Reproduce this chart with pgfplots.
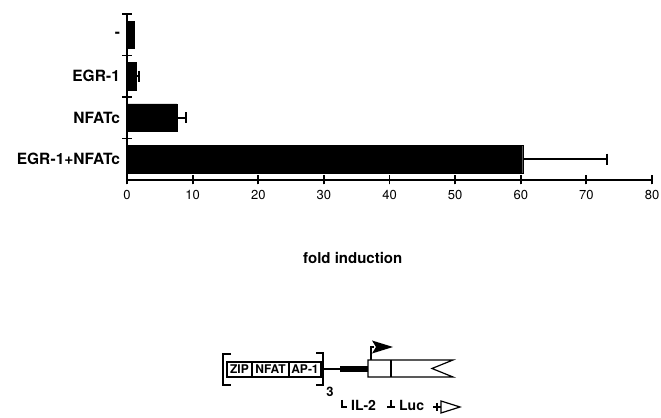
\documentclass[border=0pt]{standalone}
\usepackage{fontspec}
\setmainfont{TeX Gyre Heros}
\usepackage{pgfplots}
\pgfplotsset{compat=1.18}
\usetikzlibrary{arrows.meta}
\begin{document}
\begin{tikzpicture}
\useasboundingbox (0,0) rectangle (661bp,418bp);
\begin{axis}[
  at={(127bp,238bp)}, anchor=south west,
  scale only axis, width=525bp, height=166bp,
  xmin=0, xmax=80, ymin=0, ymax=4,
  axis x line=bottom, axis y line=left,
  axis line style={-, line width=1.8bp, black},
  xtick={0,10,...,80},
  ytick={1,2,3,4},
  yticklabels={EGR-1+NFATc,NFATc,EGR-1,-},
  tick align=center,
  major tick length=9bp,
  every tick/.style={line width=1.8bp, black},
  yticklabel style={font=\fontsize{15.5bp}{18bp}\selectfont\bfseries, yshift=-20.75bp, xshift=1bp},
  xticklabel style={font=\fontsize{13bp}{15bp}\selectfont, yshift=-2bp},
  /pgf/number format/assume math mode=true,
  xlabel={fold induction},
  xlabel style={at={(axis description cs:0.43,-0.47)}, anchor=center, font=\fontsize{15bp}{18bp}\selectfont\bfseries},
  clip=false,
]
\addplot[xbar, bar width=27.5bp, bar shift=0pt, fill=black, draw=black,
  error bars/.cd, x dir=plus, x explicit,
  error mark=|,
  error bar style={line width=1.6bp, black},
  error mark options={line width=1.6bp, mark size=5.5bp, black}]
 table[x=x, y=y, x error=e] {
 x y e
 60.3 0.5 12.8
 7.6 1.5 1.4
 1.4 2.5 0.4
 };
\addplot[xbar, bar width=27.5bp, bar shift=0pt, fill=black, draw=black] table[x=x, y=y] {
 x y
 1.05 3.5
 };
\pgfplotsinvokeforeach{0,10,20,30,40,50,60,70,80}{%
  \draw[line width=1.8bp, black] (axis cs:#1,0) ++(0pt,-4.5bp) -- ++(0pt,9bp);}
\end{axis}
\begin{scope}[shift={(0bp,418bp)}, x=1bp, y=-1bp, line cap=butt, line join=miter]
  % brackets
  \draw[line width=2bp] (231,354) -- (223,354) -- (223,385) -- (231,385);
  \draw[line width=2bp] (316,353) -- (323,353) -- (323,385) -- (316,385);
  % element boxes
  \draw[line width=1.2bp] (227,362) rectangle (321,377);
  \draw[line width=1.2bp] (252,362) -- (252,377);
  \draw[line width=1.2bp] (289,362) -- (289,377);
  \node[font=\fontsize{12bp}{14bp}\selectfont\bfseries, inner sep=0pt] at (239.5,369.5) {ZIP};
  \node[font=\fontsize{12bp}{14bp}\selectfont\bfseries, inner sep=0pt] at (270.5,369.5) {NFAT};
  \node[font=\fontsize{12bp}{14bp}\selectfont\bfseries, inner sep=0pt] at (305,369.5) {AP-1};
  \node[font=\fontsize{13bp}{15bp}\selectfont\bfseries, inner sep=0pt] at (330,392) {3};
  % lines
  \draw[line width=1.5bp] (321,369) -- (341,369);
  \draw[line width=6bp] (340,369) -- (368,369);
  % gene
  \draw[line width=1.2bp] (368,360) -- (453,360) -- (432,368.5) -- (453,377) -- (368,377) -- cycle;
  \draw[line width=1.2bp] (391,360) -- (391,377);
  \draw[line width=1.2bp] (371,360) -- (371,347) -- (374,347);
  \fill (372,340.5) -- (393,347) -- (372,353.5) -- (376,347) -- cycle;
  % labels
  \draw[line width=1.2bp] (342,400) -- (342,407) -- (347,407);
  \node[font=\fontsize{14bp}{16bp}\selectfont\bfseries, inner sep=0pt, anchor=base west] at (351,411) {IL-2};
  \draw[line width=1.2bp] (391,400) -- (391,407);
  \draw[line width=1.2bp] (387,407) -- (395,407);
  \node[font=\fontsize{14bp}{16bp}\selectfont\bfseries, inner sep=0pt, anchor=base west] at (399,411) {Luc};
  \draw[line width=1.2bp] (437,403) -- (437,411);
  \draw[line width=1.2bp] (433,407) -- (441,407);
  \draw[line width=1.2bp] (441,401) -- (460,407) -- (441,413) -- cycle;
\end{scope}
\end{tikzpicture}
\end{document}
